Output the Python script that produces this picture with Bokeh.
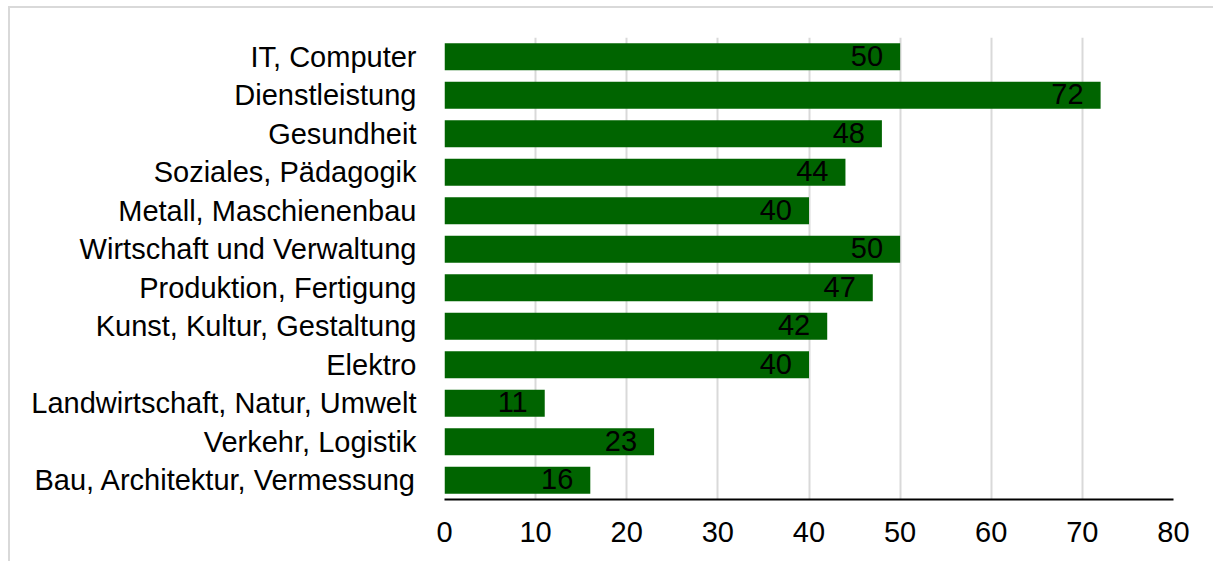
from bokeh.plotting import figure
from bokeh.models import ColumnDataSource, Range1d, FactorRange, FixedTicker
from bokeh.core.properties import value
from bokeh.embed import file_html
from bokeh.resources import INLINE

categories = [
    "IT, Computer",
    "Dienstleistung",
    "Gesundheit",
    "Soziales, Pädagogik",
    "Metall, Maschienenbau",
    "Wirtschaft und Verwaltung",
    "Produktion, Fertigung",
    "Kunst, Kultur, Gestaltung",
    "Elektro",
    "Landwirtschaft, Natur, Umwelt",
    "Verkehr, Logistik",
    "Bau, Architektur, Vermessung",
]
values = [50, 72, 48, 44, 40, 50, 47, 42, 40, 11, 23, 16]
x_ticks = [0, 10, 20, 30, 40, 50, 60, 70, 80]

FONT = "Liberation Sans"
GREEN = "#006400"
GRID = "#d9d9d9"

src = ColumnDataSource(dict(cat=categories, val=values, lbl=[str(v) for v in values]))

# page offset of the figure (margin 8/6 + 2px border)
OX, OY = 10, 8
W, H = 1215 - OX, 563 - OY

p = figure(
    width=W, height=H,
    y_range=FactorRange(*reversed(categories), range_padding=0),
    x_range=Range1d(0, 80),
    output_backend="svg", toolbar_location=None,
    min_border_left=444 - OX, min_border_right=1215 - 1173,
    min_border_top=37 - OY, min_border_bottom=563 - 499,
)
p.margin = (6, 0, 0, 8)
p.styles = {"border-top": "2px solid " + GRID, "border-left": "2px solid " + GRID}
p.outline_line_color = None
p.background_fill_color = "white"
p.border_fill_color = "white"

p.hbar(y="cat", right="val", left=0, height=0.7, source=src, color=GREEN, line_color=None)
p.text(x="val", y="cat", text="lbl", source=src, x_offset=-17, y_offset=-1,
       text_align="right", text_baseline="middle",
       text_font=value(FONT), text_font_size="29px", text_color="black")

# grid
p.ygrid.grid_line_color = None
p.xgrid.grid_line_color = GRID
p.xgrid.grid_line_width = 2
p.xaxis.ticker = FixedTicker(ticks=x_ticks)

# x axis
p.xaxis.axis_line_color = "black"
p.xaxis.axis_line_width = 2
p.xaxis.major_tick_line_color = None
p.xaxis.minor_tick_line_color = None
p.xaxis.major_label_text_font = FONT
p.xaxis.major_label_text_font_size = "29px"
p.xaxis.major_label_text_color = "black"
p.xaxis.major_label_standoff = 16

# y axis
p.yaxis.axis_line_color = None
p.yaxis.major_tick_line_color = None
p.yaxis.minor_tick_line_color = None
p.yaxis.major_label_text_font = FONT
p.yaxis.major_label_text_font_size = "29px"
p.yaxis.major_label_text_color = "black"
p.yaxis.major_label_standoff = 22

open("out.html", "w").write(file_html(p, INLINE))
